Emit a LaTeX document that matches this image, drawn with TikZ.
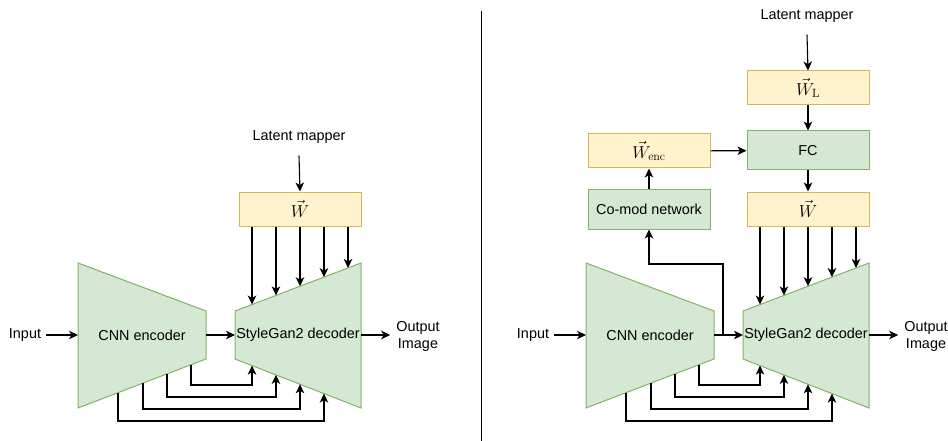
\documentclass[tikz,border=0pt]{standalone}
\usepackage[no-math]{fontspec}
\setmainfont{Liberation Sans}
\usetikzlibrary{arrows.meta,calc}

\definecolor{gfill}{HTML}{D5E8D4}
\definecolor{gline}{HTML}{82B366}
\definecolor{yfill}{HTML}{FFF2CC}
\definecolor{yline}{HTML}{D6B656}
\newcommand\labelfont{\fontsize{14.4}{17}\selectfont}
\newcommand\mathfont{\fontsize{17}{20}\selectfont}

\tikzset{
  lbl/.style={font=\labelfont, inner sep=0pt},
  blockshape/.style={draw=gline, fill=gfill, line width=1pt, line join=miter},
  gbox/.style={draw=gline, fill=gfill, line width=1pt, minimum width=122pt,
    minimum height=39pt, inner sep=0pt, font=\labelfont},
  ybox/.style={draw=yline, fill=yfill, line width=1pt, minimum width=122pt,
    minimum height=34pt, inner sep=0pt, font=\mathfont},
  arr/.style={-{Stealth[length=9pt,width=8.5pt,inset=2.5pt]}, line width=1.1pt},
}

% Encoder, decoder, style vector and skip connections of one panel
\newcommand\stylepanel[1]{%
  \coordinate (#1etl) at (78,263);
  \coordinate (#1ebl) at (78,408);
  \coordinate (#1etr) at (206,311);
  \coordinate (#1ebr) at (206,359);
  \coordinate (#1dtl) at (235,311);
  \coordinate (#1dbl) at (235,359);
  \coordinate (#1dtr) at (361,263);
  \coordinate (#1dbr) at (361,408);
  \draw[blockshape] (#1etl) -- (#1etr) -- (#1ebr) -- (#1ebl) -- cycle;
  \draw[blockshape] (#1dtl) -- (#1dtr) -- (#1dbr) -- (#1dbl) -- cycle;
  \node[lbl] (#1enc) at (142,335) {CNN encoder};
  \node[lbl] (#1dec) at (298,335) {StyleGan2 decoder};
  \coordinate (#1encin) at (78,335);
  \coordinate (#1encout) at (206,335);
  \coordinate (#1decin) at (235,335);
  \coordinate (#1decout) at (361,335);
  \node[lbl, inner xsep=5pt] (#1in) at (25,335) {Input};
  \node[lbl, inner xsep=6pt, align=center] (#1out) at (418,336) {Output\\Image};
  \draw[arr] (#1in) -- (#1encin);
  \draw[arr] (#1encout) -- (#1decin);
  \draw[arr] (#1decout) -- (#1out.west |- #1decout);
  \node[ybox] (#1w) at (300,209) {$\vec{W}$};
  % style inputs onto the upper edge of the decoder
  \foreach \t [count=\k] in {0.135,0.325,0.516,0.706,0.897} {
    \coordinate (#1s\k) at ($(#1dtl)!\t!(#1dtr)$);
    \draw[arr] (#1s\k |- #1w.south) -- (#1s\k);
  }
  % skip connections from encoder to decoder
  \foreach \a/\b/\y [count=\k] in {0.883/0.135/385,0.695/0.325/397,0.508/0.516/409,0.3125/0.706/421} {
    \coordinate (#1e\k) at ($(#1ebl)!\a!(#1ebr)$);
    \coordinate (#1d\k) at ($(#1dbl)!\b!(#1dbr)$);
    \draw[arr] (#1e\k) |- (#1d\k |- 0,\y) -- (#1d\k);
  }
}

\begin{document}
\begin{tikzpicture}[x=1pt,y=-1pt]
\useasboundingbox (0,0) rectangle (948,441);

% left: plain encoder-decoder
\stylepanel{L}
\node[lbl] (Llm) at (299,137) {Latent mapper};
\draw[arr] ([yshift=-12pt]Llm.south) -- (Lw.north);

% divider
\coordinate (divtop) at (481,11);
\coordinate (divbot) at (481,441);
\draw[line width=1pt] (divtop) -- (divbot);

% right: with co-modulation branch
\begin{scope}[xshift=508pt]
\stylepanel{R}
\node[lbl] (Rlm) at (299,16) {Latent mapper};
\node[ybox] (Rwl) at (300,88) {$\vec{W}_{\mathrm{L}}$};
\node[gbox] (Rfc) at (300,150.5) {FC};
\node[ybox] (Rwenc) at (141,151) {$\vec{W}_{\mathrm{enc}}$};
\node[gbox, minimum height=40pt] (Rcomod) at (141,209) {Co-mod network};
\draw[arr] ([yshift=-12pt]Rlm.south) -- (Rwl.north);
\draw[arr] (Rwl) -- (Rfc);
\draw[arr] (Rfc) -- (Rw);
\draw[arr] (Rwenc) -- (Rfc);
\draw[arr] (Rcomod) -- (Rwenc);
\coordinate (Rbr) at (215,335);
\draw[arr] (Rbr) |- (Rcomod.south |- 0,264) -- (Rcomod.south);
\end{scope}
\end{tikzpicture}
\end{document}
